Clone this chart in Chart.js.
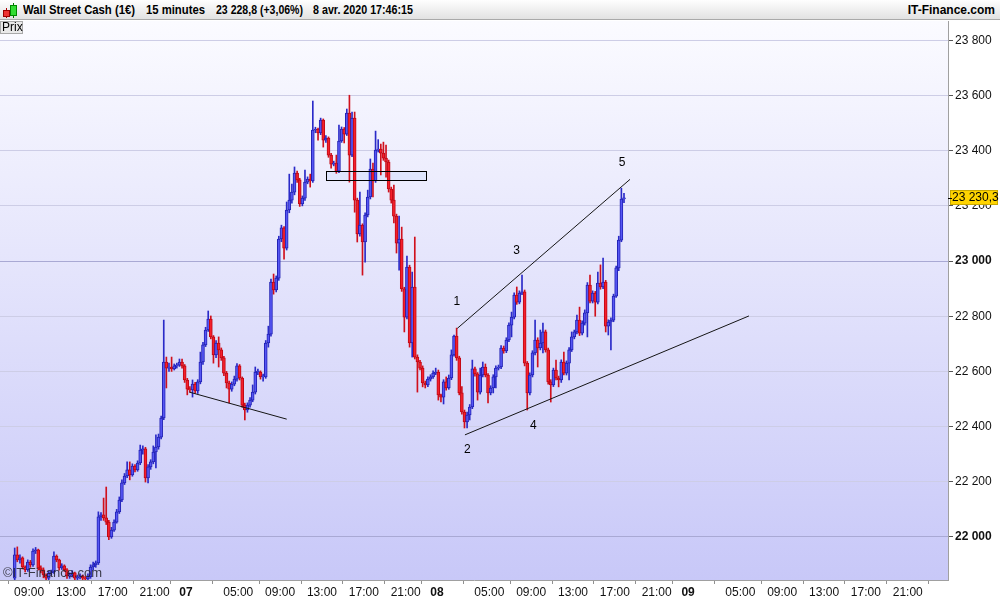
<!DOCTYPE html>
<html>
<head>
<meta charset="utf-8">
<script src="https://cdn.jsdelivr.net/npm/chart.js@4.4.1/dist/chart.umd.min.js"></script>
<style>
body { margin: 0; background: #fff; }
#wrap { position: relative; width: 1000px; height: 600px; font-family: "Liberation Sans", Arial, sans-serif; }
canvas { position: absolute; left: 0; top: 0; }
#head { position: absolute; left: 0; top: 0; width: 1000px; height: 20px; box-sizing: border-box;
  background: linear-gradient(#fefefe, #e2e2e2); border-bottom: 1px solid #a9a9a9;
  font-weight: bold; font-size: 12px; color: #000; }
#head span { position: absolute; top: 3px; white-space: nowrap; transform-origin: 0 50%; }
#prix { position: absolute; left: 0; top: 21px; width: 23px; height: 13px; box-sizing: border-box;
  background: #e9e9e9; border: 1px solid #a9a9a9; font-size: 12px; line-height: 11px; padding-left: 1px; }
.ic { position: absolute; }
</style>
</head>
<body>
<div id="wrap">
  <canvas id="chart" width="1000" height="600"></canvas>
  <div id="head">
    <div class="ic" style="left:6px;top:8px;width:1px;height:10px;background:#a00"></div>
    <div class="ic" style="left:3px;top:10px;width:5px;height:5px;background:#e33;border:1px solid #900"></div>
    <div class="ic" style="left:13px;top:3px;width:1px;height:15px;background:#070"></div>
    <div class="ic" style="left:10px;top:5px;width:5px;height:9px;background:#3d3;border:1px solid #080"></div>
    <span class="fit" data-w="112" style="left:23px">Wall Street Cash (1€)</span>
    <span class="fit" data-w="59" style="left:146px">15 minutes</span>
    <span class="fit" data-w="87" style="left:216px">23 228,8 (+3,06%)</span>
    <span class="fit" data-w="100" style="left:313px">8 avr. 2020 17:46:15</span>
    <span style="right:5px">IT-Finance.com</span>
  </div>
  <div id="prix">Prix</div>
</div>
<script>
'use strict';
// 15 minute candles, time in hours counted from 6 avr. 00:00
let firstCandle = 7.5;
let candleStep = 0.25;
let firstOpen = 21851;

let closes = [
  21935,21917,21924,21891,21881,21909,21899,21949,21953,21888,
  21881,21862,21851,21870,21873,21931,21917,21888,21895,21881,
  21859,21862,21870,21851,21855,21859,21851,21848,21856,21891,
  21899,21906,22073,22080,22069,22054,22000,22025,22054,22091,
  22134,22196,22221,22243,22225,22257,22243,22268,22315,22319,
  22214,22254,22272,22308,22326,22362,22431,22634,22612,22616,
  22609,22620,22623,22634,22620,22569,22536,22533,22554,22529,
  22562,22634,22696,22750,22790,22725,22660,22703,22678,22649,
  22594,22558,22536,22554,22572,22620,22576,22478,22460,22478,
  22496,22525,22598,22598,22580,22580,22703,22735,22924,22895,
  22938,23080,23120,23047,23185,23221,23250,23319,23294,23207,
  23228,23286,23297,23290,23475,23478,23464,23511,23438,23446,
  23384,23351,23355,23326,23435,23478,23460,23536,23384,23518,
  23221,23098,23130,23069,23167,23232,23333,23290,23402,23406,
  23391,23373,23359,23261,23221,23163,23065,23080,22899,22797,
  22978,22703,22906,22652,22634,22612,22558,22551,22572,22580,
  22594,22598,22515,22507,22562,22540,22576,22660,22728,22649,
  22522,22453,22417,22442,22471,22609,22591,22525,22587,22616,
  22587,22522,22540,22580,22612,22616,22685,22674,22714,22768,
  22797,22877,22851,22884,22888,22630,22522,22587,22667,22714,
  22685,22703,22743,22678,22562,22551,22605,22576,22569,22634,
  22594,22630,22678,22725,22743,22786,22739,22775,22812,22913,
  22855,22884,22851,22920,22906,22924,22764,22779,22786,22873,
  22975,23076,23225,23229
];
let highs = [
  21960,21964,21935,21928,21895,21917,21915,21957,21962,21956,
  21895,21888,21866,21877,21880,21946,21935,21920,21903,21899,
  21885,21870,21878,21873,21862,21866,21862,21857,21866,21899,
  21909,21913,22091,22088,22141,22181,22060,22035,22062,22100,
  22145,22207,22230,22272,22272,22265,22262,22276,22333,22330,
  22325,22262,22280,22330,22370,22373,22438,22786,22652,22630,
  22652,22627,22630,22645,22645,22625,22575,22545,22569,22560,
  22570,22670,22705,22760,22819,22801,22730,22712,22725,22685,
  22655,22600,22565,22562,22583,22628,22625,22580,22485,22486,
  22505,22551,22616,22608,22602,22590,22712,22764,22935,22953,
  22946,23090,23130,23125,23214,23315,23279,23341,23326,23300,
  23236,23330,23305,23315,23580,23485,23482,23518,23515,23455,
  23450,23390,23362,23384,23493,23486,23484,23551,23601,23540,
  23540,23228,23250,23135,23175,23257,23370,23355,23471,23440,
  23424,23431,23420,23366,23268,23275,23170,23163,23123,22905,
  23018,22985,22960,23087,22660,22640,22620,22565,22580,22588,
  22602,22612,22605,22518,22570,22580,22587,22678,22732,22757,
  22655,22545,22460,22453,22480,22641,22616,22596,22612,22634,
  22627,22592,22548,22588,22620,22623,22694,22692,22722,22776,
  22815,22885,22906,22892,22949,22895,22636,22595,22675,22786,
  22722,22750,22775,22750,22685,22570,22612,22641,22583,22642,
  22670,22638,22686,22743,22750,22804,22833,22783,22823,22922,
  22949,22892,22890,22960,22986,23011,22930,22787,22794,22880,
  22982,23090,23264,23245
];
let lows = [
  21840,21910,21905,21884,21873,21875,21890,21893,21940,21880,
  21870,21852,21842,21845,21862,21868,21910,21880,21882,21875,
  21850,21850,21855,21845,21845,21848,21842,21840,21840,21850,
  21880,21890,21900,22060,22060,22045,21990,21995,22020,22050,
  22085,22128,22190,22215,22207,22220,22236,22238,22262,22300,
  22199,22196,22245,22265,22250,22318,22355,22425,22540,22600,
  22600,22605,22612,22618,22612,22560,22515,22525,22507,22520,
  22520,22555,22625,22690,22745,22718,22630,22650,22616,22640,
  22585,22540,22486,22528,22548,22565,22569,22470,22424,22452,
  22470,22490,22518,22588,22572,22565,22575,22688,22728,22880,
  22888,22930,23070,23007,23040,23175,23210,23240,23285,23198,
  23200,23220,23280,23268,23285,23465,23438,23458,23413,23430,
  23376,23337,23345,23318,23320,23430,23428,23455,23286,23378,
  23177,23069,23090,22949,22996,23160,23225,23232,23285,23395,
  23312,23365,23304,23250,23210,23138,23029,22967,22890,22743,
  22790,22688,22652,22645,22525,22605,22544,22540,22545,22565,
  22575,22588,22496,22489,22482,22532,22535,22570,22655,22640,
  22515,22445,22395,22395,22424,22465,22583,22496,22518,22580,
  22580,22486,22515,22522,22540,22605,22610,22666,22668,22708,
  22725,22790,22843,22845,22878,22620,22460,22515,22580,22660,
  22616,22678,22667,22670,22554,22489,22545,22569,22544,22560,
  22587,22587,22569,22672,22718,22736,22730,22732,22768,22725,
  22848,22848,22800,22845,22898,22900,22743,22732,22678,22780,
  22868,22965,23070,23212
];

let priceTicks = [22000,22200,22400,22600,22800,23000,23200,23400,23600,23800];
let timeTicks = [9,13,17,21,24,29,33,37,41,45,48,53,57,61,65,69,72,77,81,85,89,93];
let timeLabels = ['09:00','13:00','17:00','21:00','07','05:00','09:00','13:00','17:00','21:00','08',
  '05:00','09:00','13:00','17:00','21:00','09','05:00','09:00','13:00','17:00','21:00'];
let dayLabels = ['07','08','09'];

// drawings on the chart (hours, price)
let supportA = [[24.32,22525],[33.63,22427]];
let line13 = [[49.94,22756],[66.45,23296]];
let line24 = [[50.67,22370],[77.82,22801]];
let zoneBox = [37.38,46.94,23294,23326];
let waveNames = ['1','2','3','4','5'];
let waveX = [49.9,50.9,55.6,57.2,65.7];
let waveY = [22851,22315,23036,22402,23355];
let lastQuote = 23230.3;

let xMin = 6.22, xMax = 96.85;
let yMin = 21844, yMax = 23870;
let fontFam = '"Liberation Sans", Arial, sans-serif';

let times = closes.map((c, i) => firstCandle + candleStep * i + candleStep / 2);
let opens = closes.map((c, i) => i === 0 ? firstOpen : closes[i - 1]);
let isUp = closes.map((c, i) => c >= opens[i]);

// squeeze header texts to the widths of the original bar
document.querySelectorAll('#head .fit').forEach(el => {
  let w = el.getBoundingClientRect().width;
  el.style.transform = 'scaleX(' + (Number(el.dataset.w) / w) + ')';
});

function fmtPrice(v, dec) {
  let s = v.toFixed(dec || 0).replace('.', ',');
  let parts = s.split(',');
  parts[0] = parts[0].replace(/\B(?=(\d{3})+(?!\d))/g, ' ');
  return parts.join(',');
}

function toPts(arr) {
  return arr.map(p => ({x: p[0], y: p[1]}));
}

let bgPlugin = {
  id: 'bg',
  beforeDraw(chart) {
    let ctx = chart.ctx, a = chart.chartArea;
    ctx.save();
    ctx.fillStyle = '#ffffff';
    ctx.fillRect(0, 0, chart.width, chart.height);
    let g = ctx.createLinearGradient(0, a.top, 0, a.bottom);
    g.addColorStop(0, '#fbfbff');
    g.addColorStop(1, '#c8c8f8');
    ctx.fillStyle = g;
    ctx.fillRect(a.left, a.top, a.right - a.left, a.bottom - a.top);
    ctx.restore();
  },
  beforeDatasetsDraw(chart) {
    let ctx = chart.ctx, xs = chart.scales.x, ys = chart.scales.y;
    let x1 = xs.getPixelForValue(zoneBox[0]), x2 = xs.getPixelForValue(zoneBox[1]);
    let y1 = ys.getPixelForValue(zoneBox[3]), y2 = ys.getPixelForValue(zoneBox[2]);
    ctx.save();
    ctx.fillStyle = '#dfe5fd';
    ctx.fillRect(x1, y1, x2 - x1, y2 - y1);
    ctx.restore();
  },
  afterDatasetsDraw(chart) {
    let ctx = chart.ctx, xs = chart.scales.x, ys = chart.scales.y;
    let x1 = xs.getPixelForValue(zoneBox[0]), x2 = xs.getPixelForValue(zoneBox[1]);
    let y1 = ys.getPixelForValue(zoneBox[3]), y2 = ys.getPixelForValue(zoneBox[2]);
    ctx.save();
    ctx.strokeStyle = '#000';
    ctx.lineWidth = 1;
    ctx.strokeRect(Math.round(x1) + 0.5, Math.round(y1) + 0.5, Math.round(x2 - x1), Math.round(y2 - y1));
    ctx.fillStyle = '#000';
    ctx.font = '12px ' + fontFam;
    ctx.textAlign = 'center';
    ctx.textBaseline = 'middle';
    for (let i = 0; i < waveNames.length; i++) {
      ctx.fillText(waveNames[i], xs.getPixelForValue(waveX[i]), ys.getPixelForValue(waveY[i]));
    }
    let a = chart.chartArea;
    ctx.textAlign = 'left';
    ctx.textBaseline = 'alphabetic';
    ctx.font = '13px ' + fontFam;
    ctx.fillStyle = 'rgba(30,30,40,0.85)';
    ctx.fillText('\u00A9IT-Finance.com', a.left + 3, a.bottom - 3);
    ctx.restore();
  },
  afterDraw(chart) {
    let ctx = chart.ctx, ys = chart.scales.y, a = chart.chartArea;
    let y = Math.round(ys.getPixelForValue(lastQuote));
    ctx.save();
    ctx.fillStyle = '#ffd400';
    ctx.fillRect(a.right + 2, y - 8, 48, 15);
    ctx.strokeStyle = '#c9a800';
    ctx.strokeRect(a.right + 2.5, y - 7.5, 47, 14);
    ctx.strokeStyle = '#000';
    ctx.beginPath();
    ctx.moveTo(a.right, y + 0.5);
    ctx.lineTo(a.right + 4, y + 0.5);
    ctx.stroke();
    ctx.fillStyle = '#000';
    ctx.font = '12px ' + fontFam;
    ctx.textBaseline = 'middle';
    ctx.fillText(fmtPrice(lastQuote, 1), a.right + 4, y);
    ctx.restore();
  }
};

let ctx = document.getElementById('chart').getContext('2d');
let myChart = new Chart(ctx, {
  type: 'bar',
  data: {
    datasets: [
      {
        label: 'ligne 1-3',
        type: 'line',
        data: toPts(line13),
        borderColor: '#151515',
        borderWidth: 1,
        pointRadius: 0,
        order: 0
      },
      {
        label: 'ligne 2-4',
        type: 'line',
        data: toPts(line24),
        borderColor: '#151515',
        borderWidth: 1,
        pointRadius: 0,
        order: 0
      },
      {
        label: 'support',
        type: 'line',
        data: toPts(supportA),
        borderColor: '#151515',
        borderWidth: 1,
        pointRadius: 0,
        order: 0
      },
      {
        label: 'corps',
        data: times.map((t, i) => ({x: t, y: [opens[i], closes[i]]})),
        backgroundColor: isUp.map(u => u ? '#5656f4' : '#f4202c'),
        borderColor: isUp.map(u => u ? '#2222b4' : '#c00814'),
        borderWidth: 1,
        borderSkipped: false,
        barThickness: 3,
        minBarLength: 1,
        grouped: false,
        order: 1
      },
      {
        label: 'meches',
        data: times.map((t, i) => ({x: t, y: [lows[i], highs[i]]})),
        backgroundColor: isUp.map(u => u ? '#2a2ac8' : '#d0101c'),
        borderWidth: 0,
        barThickness: 1,
        grouped: false,
        order: 2
      }
    ]
  },
  options: {
    responsive: false,
    animation: false,
    devicePixelRatio: 1,
    layout: { padding: { top: 21, left: 0, right: 0, bottom: 0 } },
    plugins: { legend: { display: false }, tooltip: { enabled: false } },
    scales: {
      x: {
        type: 'linear',
        min: xMin,
        max: xMax,
        offset: false,
        afterBuildTicks: s => { s.ticks = timeTicks.map(v => ({value: v})); },
        afterFit: s => { s.height = 20; },
        grid: { drawOnChartArea: false, drawTicks: true, tickLength: 4, tickColor: '#909090' },
        border: { color: '#a0a0a0' },
        ticks: {
          autoSkip: false,
          maxRotation: 0,
          padding: 1,
          color: '#111',
          font: c => ({ family: fontFam, size: 12,
            weight: dayLabels.indexOf(timeLabels[c.index]) >= 0 ? 'bold' : 'normal' }),
          callback: (v, i) => timeLabels[i]
        }
      },
      y: {
        position: 'right',
        min: yMin,
        max: yMax,
        afterBuildTicks: s => { s.ticks = priceTicks.map(v => ({value: v})); },
        afterFit: s => { s.width = 52; },
        grid: {
          color: c => (c.tick && c.tick.value % 1000 === 0) ? '#a9a9d4' : '#cdcde6',
          tickLength: 5,
          tickColor: '#555'
        },
        border: { color: '#a0a0a0' },
        ticks: {
          padding: 2,
          color: '#111',
          font: c => ({ family: fontFam, size: 12,
            weight: (c.tick && c.tick.value % 1000 === 0) ? 'bold' : 'normal' }),
          callback: v => fmtPrice(v)
        }
      }
    }
  },
  plugins: [bgPlugin]
});
</script>
</body>
</html>
